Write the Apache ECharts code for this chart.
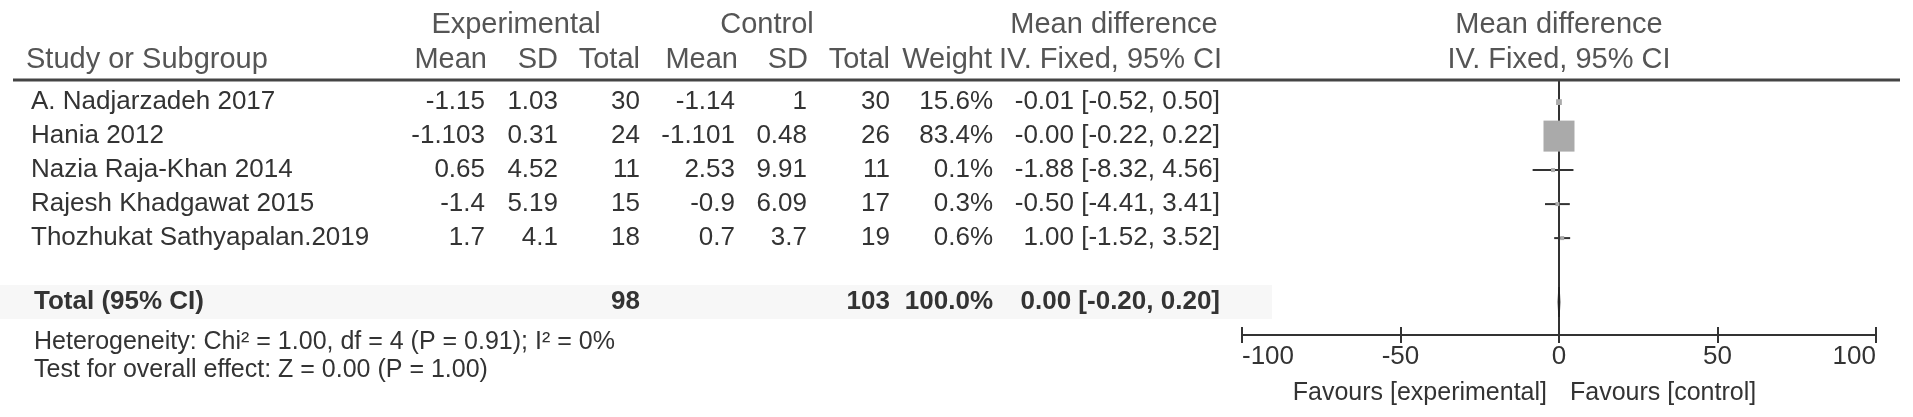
<!DOCTYPE html>
<html><head><meta charset="utf-8">
<script src="https://cdn.jsdelivr.net/npm/echarts@6/dist/echarts.min.js"></script>
<style>html,body{margin:0;padding:0;background:#fff}#c{width:1913px;height:417px}</style>
</head><body><div id="c"></div>
<script>
// ---- data ----
const studies   = ["A. Nadjarzadeh 2017", "Hania 2012", "Nazia Raja-Khan 2014", "Rajesh Khadgawat 2015", "Thozhukat Sathyapalan.2019"];
const expMean   = [-1.15, -1.103, 0.65, -1.4, 1.7];
const expSD     = [1.03, 0.31, 4.52, 5.19, 4.1];
const expN      = [30, 24, 11, 15, 18];
const ctrlMean  = [-1.14, -1.101, 2.53, -0.9, 0.7];
const ctrlSD    = [1, 0.48, 9.91, 6.09, 3.7];
const ctrlN     = [30, 26, 11, 17, 19];
const weights   = [15.6, 83.4, 0.1, 0.3, 0.6];
const mdEst     = [-0.01, -0.002, -1.88, -0.50, 1.00];
const ciLow     = [-0.52, -0.22, -8.32, -4.41, -1.52];
const ciHigh    = [0.50, 0.22, 4.56, 3.41, 3.52];
const totalExpN = 98;
const totalCtrlN = 103;
const totalWeight = 100.0;
const totalEst  = 0.00;
const totalLow  = -0.20;
const totalHigh = 0.20;
const xTicks    = [-100, -50, 0, 50, 100];
const heterogeneityText = "Heterogeneity: Chi\u00b2 = 1.00, df = 4 (P = 0.91); I\u00b2 = 0%";
const overallText = "Test for overall effect: Z = 0.00 (P = 1.00)";
const favLeft = "Favours [experimental]";
const favRight = "Favours [control]";

// ---- layout ----
const FONT = '"Liberation Sans", Arial, Helvetica, sans-serif';
const HFS = 29, DFS = 26, SFS = 25;
const HCOL = '#555', DCOL = '#333';
const cols = {name: 31, expMean: 485, expSD: 558, expN: 640, ctrlMean: 735, ctrlSD: 807, ctrlN: 890, weight: 993, ci: 1220};
const totalRow = 5.88;
const gridBox = {left: 1242, width: 634, top: 80, height: 255};

const chart = echarts.init(document.getElementById('c'), null, {renderer: 'canvas'});

const forestData = studies.map((s, i) => [ciLow[i], ciHigh[i], mdEst[i], i, weights[i]]);
const axisCommon = {type: 'value', min: xTicks[0], max: xTicks[xTicks.length - 1], interval: 50, splitLine: {show: false}, position: 'bottom'};

chart.setOption({
  animation: false,
  grid: [Object.assign({}, gridBox), Object.assign({}, gridBox)],
  xAxis: [
    Object.assign({}, axisCommon, {
      gridIndex: 0,
      axisLine: {show: true, onZero: false, lineStyle: {color: '#333', width: 2}},
      axisTick: {show: true, length: 8, lineStyle: {color: '#333', width: 2}},
      axisLabel: {fontFamily: FONT, fontSize: SFS + 1, color: DCOL, margin: 9, alignMinLabel: 'left', alignMaxLabel: 'right', showMinLabel: true, showMaxLabel: true}
    }),
    Object.assign({}, axisCommon, {
      gridIndex: 1,
      axisLine: {show: false, onZero: false},
      axisTick: {show: true, inside: true, length: 8, lineStyle: {color: '#333', width: 2}},
      axisLabel: {show: false}
    })
  ],
  yAxis: [
    {gridIndex: 0, type: 'value', inverse: true, min: -0.65, max: 6.85, show: false},
    {gridIndex: 1, type: 'value', inverse: true, min: -0.65, max: 6.85, show: false}
  ],
  series: [
    {
      type: 'custom',
      xAxisIndex: 0, yAxisIndex: 0,
      z: 3,
      data: forestData,
      renderItem: function (params, api) {
        const lo = api.coord([api.value(0), api.value(3)]);
        const hi = api.coord([api.value(1), api.value(3)]);
        const c = api.coord([api.value(2), api.value(3)]);
        const s = Math.max(4, 31 * api.value(4) / 83.4);
        return {type: 'group', children: [
          {type: 'line', shape: {x1: lo[0], y1: lo[1], x2: hi[0], y2: hi[1]}, style: {stroke: '#333', lineWidth: 2}},
          {type: 'rect', shape: {x: c[0] - s / 2, y: c[1] - s / 2, width: s, height: s}, style: {fill: '#aaaaaa'}}
        ]};
      },
      markLine: {
        silent: true, symbol: 'none', z: 1,
        label: {show: false},
        lineStyle: {color: '#333', width: 2, type: 'solid'},
        data: [{xAxis: 0}]
      }
    },
    {
      type: 'custom',
      xAxisIndex: 0, yAxisIndex: 0,
      z: 4,
      data: [[totalLow, totalHigh, totalEst, totalRow]],
      renderItem: function (params, api) {
        const lo = api.coord([api.value(0), api.value(3)]);
        const hi = api.coord([api.value(1), api.value(3)]);
        const c = api.coord([api.value(2), api.value(3)]);
        const h = 15;
        return {type: 'polygon', shape: {points: [[lo[0], lo[1]], [c[0], c[1] - h], [hi[0], hi[1]], [c[0], c[1] + h]]},
          style: {fill: '#222', stroke: '#222', lineWidth: 1.5}};
      }
    }
  ]
});

// ---- table text ----
function yOf(r) { return chart.convertToPixel({yAxisIndex: 0}, r); }
function txt(t, x, y, opt) {
  opt = opt || {};
  return {type: 'text', x: x, y: y, silent: true, z: 10,
    style: {text: t, fill: opt.color || DCOL, font: (opt.bold ? 'bold ' : '') + (opt.size || DFS) + 'px ' + FONT,
      textAlign: opt.align || 'right', textVerticalAlign: 'middle'}};
}
const g = [];
const yTot = yOf(totalRow);
g.push({type: 'rect', shape: {x: 0, y: yTot - 17, width: 1272, height: 34}, style: {fill: '#f7f7f7'}, z: 0, silent: true});
g.push({type: 'line', shape: {x1: 13, y1: 80, x2: 1900, y2: 80}, style: {stroke: '#444', lineWidth: 3}, z: 5, silent: true});
// headers
const h1 = 25, h2 = 60;
g.push(txt('Experimental', 516, h1, {size: HFS, color: HCOL, align: 'center'}));
g.push(txt('Control', 767, h1, {size: HFS, color: HCOL, align: 'center'}));
g.push(txt('Mean difference', 1114, h1, {size: HFS, color: HCOL, align: 'center'}));
g.push(txt('Mean difference', 1559, h1, {size: HFS, color: HCOL, align: 'center'}));
g.push(txt('Study or Subgroup', 26, h2, {size: HFS, color: HCOL, align: 'left'}));
g.push(txt('Mean', 487, h2, {size: HFS, color: HCOL}));
g.push(txt('SD', 558, h2, {size: HFS, color: HCOL}));
g.push(txt('Total', 640, h2, {size: HFS, color: HCOL}));
g.push(txt('Mean', 738, h2, {size: HFS, color: HCOL}));
g.push(txt('SD', 808, h2, {size: HFS, color: HCOL}));
g.push(txt('Total', 890, h2, {size: HFS, color: HCOL}));
g.push(txt('Weight', 992, h2, {size: HFS, color: HCOL}));
g.push(txt('IV. Fixed, 95% CI', 1222, h2, {size: HFS, color: HCOL}));
g.push(txt('IV. Fixed, 95% CI', 1559, h2, {size: HFS, color: HCOL, align: 'center'}));
// rows
function ciStr(e, l, h) { return e.toFixed(2) + ' [' + l.toFixed(2) + ', ' + h.toFixed(2) + ']'; }
studies.forEach((s, i) => {
  const y = yOf(i);
  g.push(txt(s, cols.name, y, {align: 'left'}));
  g.push(txt(String(expMean[i]), cols.expMean, y));
  g.push(txt(String(expSD[i]), cols.expSD, y));
  g.push(txt(String(expN[i]), cols.expN, y));
  g.push(txt(String(ctrlMean[i]), cols.ctrlMean, y));
  g.push(txt(String(ctrlSD[i]), cols.ctrlSD, y));
  g.push(txt(String(ctrlN[i]), cols.ctrlN, y));
  g.push(txt(weights[i].toFixed(1) + '%', cols.weight, y));
  g.push(txt(ciStr(mdEst[i], ciLow[i], ciHigh[i]), cols.ci, y));
});
g.push(txt('Total (95% CI)', 34, yTot, {align: 'left', bold: true}));
g.push(txt(String(totalExpN), cols.expN, yTot, {bold: true}));
g.push(txt(String(totalCtrlN), cols.ctrlN, yTot, {bold: true}));
g.push(txt(totalWeight.toFixed(1) + '%', cols.weight, yTot, {bold: true}));
g.push(txt(ciStr(totalEst, totalLow, totalHigh), cols.ci, yTot, {bold: true}));
g.push(txt(heterogeneityText, 34, 342, {align: 'left', size: SFS}));
g.push(txt(overallText, 34, 370, {align: 'left', size: SFS}));
const zeroX = chart.convertToPixel({xAxisIndex: 0}, 0);
g.push(txt(favLeft, zeroX - 12, 393, {align: 'right', size: SFS}));
g.push(txt(favRight, zeroX + 11, 393, {align: 'left', size: SFS}));
chart.setOption({graphic: g});
</script></body></html>
